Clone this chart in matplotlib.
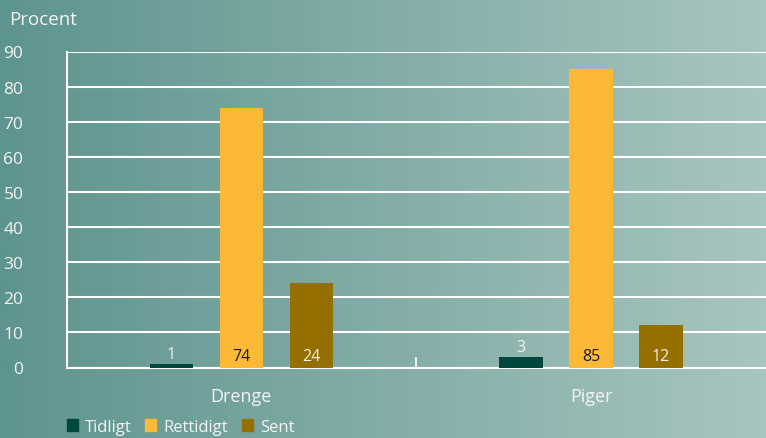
import numpy as np
import matplotlib
matplotlib.use("Agg")
import matplotlib.pyplot as plt
from matplotlib.colors import LinearSegmentedColormap
from matplotlib.patches import Patch

categories = ["Drenge", "Piger"]
series_names = ["Tidligt", "Rettidigt", "Sent"]
tidligt = [1, 3]
rettidigt = [74, 85]
sent = [24, 12]
yticks = [0, 10, 20, 30, 40, 50, 60, 70, 80, 90]

colors = ["#00473e", "#fbb935", "#957000"]
label_colors = ["#eef2f0", "#1a1a1a", "#f2efe6"]
txt = "#f2f5f3"
plt.rcParams['font.family'] = ['Open Sans', 'DejaVu Sans']

fig = plt.figure(figsize=(7.66, 4.39), dpi=100)
bg = fig.add_axes([0, 0, 1, 1], zorder=-10)
grad = np.linspace(0, 1, 512).reshape(1, -1)
cmap = LinearSegmentedColormap.from_list("bg", ["#5e948f", "#a8c5bf"])
bg.imshow(grad, aspect="auto", cmap=cmap, extent=[0, 1, 0, 1])
bg.axis("off")

ax = fig.add_axes([66.5/766, 1-368.5/439, 1-66.5/766, (368.5-52.5)/439])
ax.set_facecolor("none")
x = np.arange(len(categories))
offsets = [-0.2, 0.0, 0.2]
width = 0.124
data = [tidligt, rettidigt, sent]
for i, (vals, off) in enumerate(zip(data, offsets)):
    ax.bar(x + off, vals, width=width, color=colors[i], zorder=3, label=series_names[i])
    for xi, v in zip(x, vals):
        if i == 0:
            ax.text(xi + off, v + 0.6, str(v), ha="center", va="bottom",
                    color=label_colors[i], fontsize=11.5, zorder=4)
        else:
            ax.text(xi + off, 3.4, str(v), ha="center", va="center",
                    color=label_colors[i], fontsize=11.5, zorder=4)

ax.set_xlim(-0.5, 1.5)
ax.set_ylim(0, 90)
ax.set_yticks(yticks)
ax.set_yticklabels([str(t) for t in yticks], color=txt, fontsize=12.5)
ax.tick_params(axis="y", length=0, pad=31)
for t in ax.get_yticklabels():
    t.set_horizontalalignment("right")
ax.grid(axis="y", color="white", linewidth=1.5, zorder=1)
ax.set_axisbelow(True)

ax.set_xticks([0.5])
ax.set_xticklabels([""])
ax.tick_params(axis="x", which="major", direction="in", length=8, width=1.5, color="#e4eeeb")
ax.set_xticks(x, minor=True)
ax.set_xticklabels(categories, minor=True, color=txt, fontsize=13)
ax.tick_params(axis="x", which="minor", length=0, pad=14)

for s in ["top", "right"]:
    ax.spines[s].set_visible(False)
for s in ["left", "bottom"]:
    ax.spines[s].set_color("white")
    ax.spines[s].set_linewidth(1.5)

fig.text(9/766, 1-20/439, "Procent", color=txt, fontsize=13.5, ha="left", va="center")

handles = [Patch(color=c) for c in colors]
leg = fig.legend(handles, series_names, loc="lower left", bbox_to_anchor=(52/766, -0.027),
                 ncol=3, frameon=False, fontsize=12, handlelength=0.65, handleheight=0.65,
                 handletextpad=0.45, columnspacing=0.8, labelcolor=txt)

fig.savefig("out.png", dpi=100)
